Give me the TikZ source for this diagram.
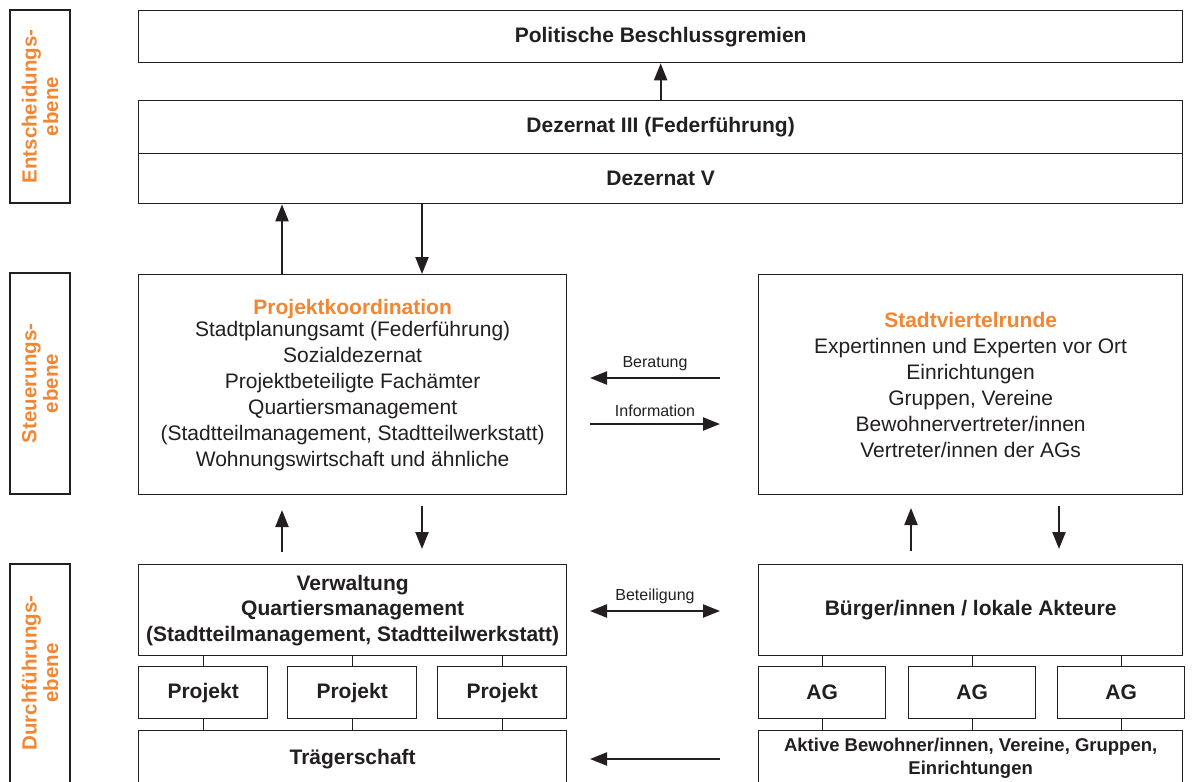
\documentclass[tikz,border=0pt]{standalone}
\usepackage{fontspec}
\setmainfont{Liberation Sans}
\usetikzlibrary{arrows.meta, positioning}
\definecolor{accent}{RGB}{242,134,50}
\definecolor{ink}{RGB}{35,31,32}

\begin{document}
\begin{tikzpicture}[x=1pt, y=-1pt,
  every node/.style={font=\fontsize{21}{26}\selectfont, text=ink},
  blk/.style={draw=ink, line width=1.3pt, fill=white, anchor=north west,
              align=center, inner sep=0pt},
  lvl/.style={draw=ink, line width=1.3pt, rotate=90, minimum height=60pt,
              align=center, inner sep=0pt, text=accent,
              font=\fontsize{20.5}{21.5}\selectfont\bfseries},
  lvltxt/.style={rotate=90, align=center, inner sep=0pt, text=accent,
              font=\fontsize{20.5}{21.5}\selectfont\bfseries},
  flow/.style={ink, line width=2.2pt, -{Triangle[length=17pt, width=13pt]}},
  both/.style={ink, line width=2.2pt,
               {Triangle[length=17pt, width=13pt]}-{Triangle[length=17pt, width=13pt]}},
  tie/.style={ink, line width=1.3pt},
  lbl/.style={font=\fontsize{16}{18}\selectfont}]

  \path[use as bounding box, clip] (0,0) rectangle (1192,782);

  % Ebenen
  \node[lvl, minimum width=193pt] (ent) at (40,106.5) {Entscheidungs-\\ebene};
  \node[lvl, minimum width=221pt] (steu) at (40,383.5) {Steuerungs-\\ebene};
  \node[lvl, minimum width=240pt] (durch) at (40,684) {};
  \node[lvltxt] (durchtxt) at (durch.center |- 0,673) {Durchführungs-\\ebene};

  % Entscheidung
  \node[blk, minimum width=1044pt, minimum height=52pt, font=\fontsize{21}{26}\selectfont\bfseries]
    (pol) at (138,10) {Politische Beschlussgremien};
  \node[blk, minimum width=1044pt, minimum height=53pt, font=\fontsize{21}{26}\selectfont\bfseries]
    (dez3) at (138,100) {Dezernat III (Federführung)};
  \node[blk, minimum width=1044pt, minimum height=50pt, font=\fontsize{21}{26}\selectfont\bfseries]
    (dez5) at (138,153) {Dezernat V};
  \draw[flow] (dez3.north) -- (pol.south);

  % Steuerung
  \node[blk, minimum width=428pt, minimum height=220pt] (proj) at (138,274)
    {{\bfseries\color{accent}Projektkoordination}\\[-4pt]
     Stadtplanungsamt (Federführung)\\ Sozialdezernat\\
     Projektbeteiligte Fachämter\\ Quartiersmanagement\\
     (Stadtteilmanagement, Stadtteilwerkstatt)\\ Wohnungswirtschaft und ähnliche};
  \node[blk, minimum width=424pt, minimum height=220pt] (svr) at (758,274)
    {{\bfseries\color{accent}Stadtviertelrunde}\\
     Expertinnen und Experten vor Ort\\ Einrichtungen\\ Gruppen, Vereine\\
     Bewohnervertreter/innen\\ Vertreter/innen der AGs};
  \draw[flow] ([xshift=144pt]proj.north west) -- ([xshift=144pt]proj.north west |- dez5.south);
  \draw[flow] ([xshift=284pt]proj.north west |- dez5.south) -- ([xshift=284pt]proj.north west);

  \coordinate (berR) at (720,378);
  \coordinate (berL) at (590,378);
  \coordinate (infL) at (590,424);
  \coordinate (infR) at (720,424);
  \draw[flow] (berR) -- node[lbl, above=3pt] (ber) {Beratung} (berL);
  \draw[flow] (infL) -- node[lbl, above=3pt] (inf) {Information} (infR);

  % Durchfuehrung
  \node[blk, minimum width=428pt, minimum height=91pt, font=\fontsize{21}{25.5}\selectfont\bfseries]
    (verw) at (138,564) {Verwaltung\\ Quartiersmanagement\\ (Stadtteilmanagement, Stadtteilwerkstatt)};
  \node[blk, minimum width=424pt, minimum height=91pt, font=\fontsize{21}{26}\selectfont\bfseries]
    (buerg) at (758,564) {Bürger/innen / lokale Akteure};

  \coordinate (pu1) at (282,552); \coordinate (pu2) at (282,510);
  \coordinate (pd1) at (422,506); \coordinate (pd2) at (422,549);
  \coordinate (su1) at (911,551); \coordinate (su2) at (911,508);
  \coordinate (sd1) at (1059,506); \coordinate (sd2) at (1059,549);
  \draw[flow] (pu1) -- (pu2);
  \draw[flow] (pd1) -- (pd2);
  \draw[flow] (su1) -- (su2);
  \draw[flow] (sd1) -- (sd2);

  \coordinate (betL) at (590,611);
  \coordinate (betR) at (720,611);
  \draw[both] (betL) -- node[lbl, above=3pt] (bet) {Beteiligung} (betR);

  % Projekte und AGs
  \foreach \i/\x in {1/138, 2/287, 3/437}
    \node[blk, minimum width=129pt, minimum height=52pt, font=\fontsize{21}{26}\selectfont\bfseries]
      (p\i) at (\x,666) {Projekt};
  \foreach \i/\x in {1/758, 2/908, 3/1057}
    \node[blk, minimum width=127pt, minimum height=52pt, font=\fontsize{21}{26}\selectfont\bfseries]
      (ag\i) at (\x,666) {AG};

  \node[blk, minimum width=428pt, minimum height=56pt, font=\fontsize{21}{26}\selectfont\bfseries]
    (traeg) at (138,730) {Trägerschaft};
  \node[blk, minimum width=424pt, minimum height=56pt, font=\fontsize{18.5}{23}\selectfont\bfseries]
    (aktiv) at (758,730) {Aktive Bewohner/innen, Vereine, Gruppen,\\ Einrichtungen};

  \foreach \i in {1,2,3} {
    \draw[tie] (p\i.north) -- (p\i.north |- verw.south);
    \draw[tie] (p\i.south) -- (p\i.south |- traeg.north);
    \draw[tie] (ag\i.north) -- (ag\i.north |- buerg.south);
    \draw[tie] (ag\i.south) -- (ag\i.south |- aktiv.north);
  }

  \coordinate (akR) at (720,759);
  \coordinate (akL) at (590,759);
  \draw[flow] (akR) -- (akL);
\end{tikzpicture}
\end{document}
